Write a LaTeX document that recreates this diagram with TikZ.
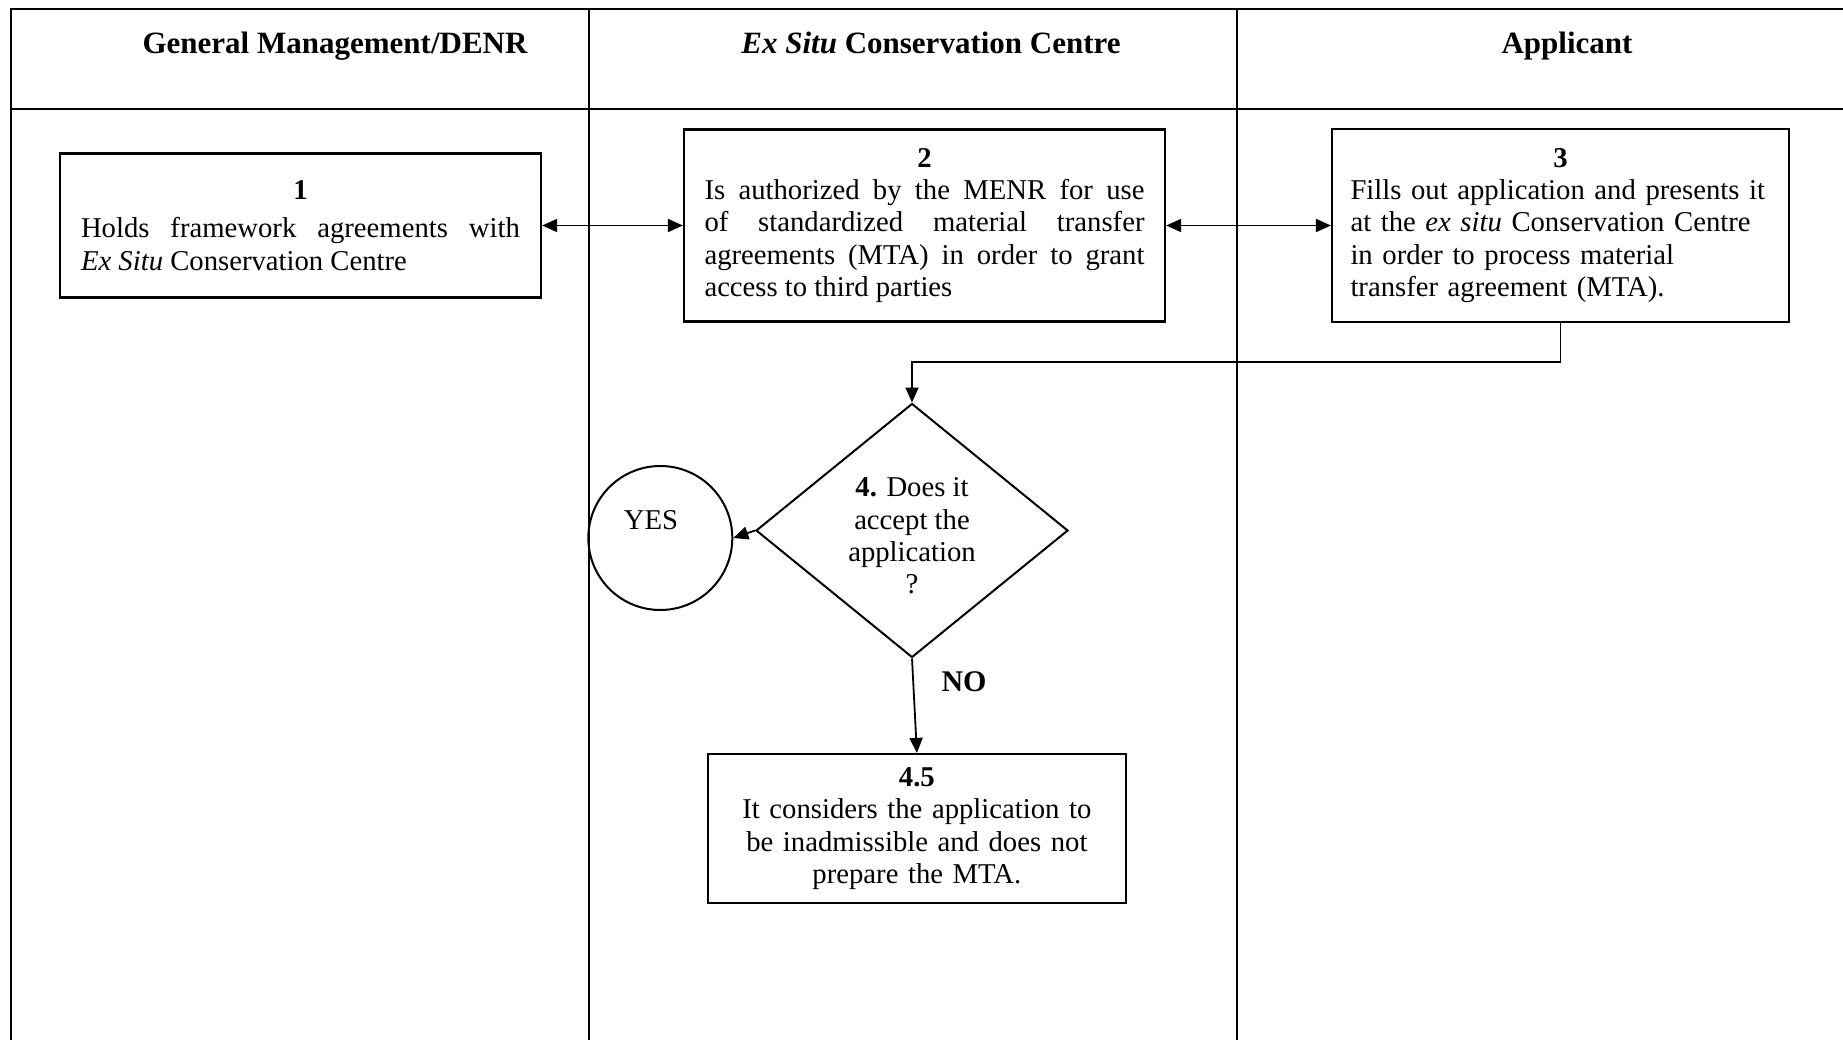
\documentclass[tikz,border=0pt]{standalone}
\usepackage{fontspec}
\setmainfont{Liberation Serif}
\usetikzlibrary{arrows.meta,shapes.geometric}
\setlength\parindent{0pt}
\begin{document}
\begin{tikzpicture}[x=1pt,y=-1pt,
  font=\fontsize{28.7}{32.3}\selectfont,
  grid/.style={line width=2pt},
  box/.style={draw,line width=2.2pt,inner xsep=21pt,inner ysep=0pt},
  tip/.style={-{Triangle[length=15pt,width=13pt]}},
  conn/.style={line width=1.8pt,tip},
  both/.style={line width=1.8pt,{Triangle[length=15pt,width=13pt]}-{Triangle[length=15pt,width=13pt]}},
  hdr/.style={font=\fontsize{31}{34}\selectfont\bfseries,anchor=base,inner sep=0pt},
  plain/.style={inner sep=0pt},
]
\useasboundingbox (0,0) rectangle (1843,1040);
\fill[white] (0,0) rectangle (1843,1040);

% swimlane grid
\draw[grid] (11,1040) -- (11,9) -- (1843,9);
\draw[grid] (11,109) -- (1843,109);
\draw[grid] (589,9) -- (589,1040);
\draw[grid] (1236.5,9) -- (1236.5,1040);

% headers
\node[hdr] (h1) at (335,54) {General Management/DENR};
\node[hdr] (h2) at (931,54) {\textit{Ex Situ} Conservation Centre};
\node[hdr] (h3) at (1567,54) {Applicant};

% boxes
\node[box,text width=439pt,minimum height=144pt,align=justify] (b1) at (300.5,225.5)
  {{\centering\textbf{1}\par}\vspace{6pt}Holds framework agreements with\linebreak \textit{Ex Situ} Conservation Centre};
\node[box,text width=440pt,inner xsep=20.5pt,minimum height=192pt,align=justify] (b2) at (924.5,225.5)
  {{\centering\textbf{2}\par}Is authorized by the MENR for use\linebreak of standardized material transfer\linebreak agreements (MTA) in order to grant\linebreak access to third parties};
\node[box,text width=420pt,inner xsep=18.5pt,minimum height=193pt,align=left] (b3) at (1560.5,225.5)
  {{\centering\textbf{3}\par}\mbox{Fills out application and presents it}\\\mbox{at the \textit{ex situ} Conservation Centre}\\\mbox{in order to process material}\\\mbox{transfer agreement (MTA).}};

% decision
\node[draw,diamond,line width=2pt,minimum width=312pt,minimum height=254pt,inner sep=0pt] (dia) at (912,530.5) {};
\node[plain,align=center] (diatext) at (912,536) {\textbf{4.} Does it\\accept the\\application\\?};

\node[draw,circle,line width=2pt,minimum size=144pt,inner sep=0pt] (yes) at (660.3,538) {};
\node[plain] (yestext) at (651,520) {YES};

\node[box,text width=376pt,minimum height=149pt,align=center] (b45) at (916.9,828.5)
  {\textbf{4.5}\\\mbox{It considers the application to}\\\mbox{be inadmissible and does not}\\\mbox{prepare the MTA.}};

\node[plain,font=\fontsize{30}{32.3}\selectfont\bfseries] (no) at (964,681.7) {NO};

% connectors
\draw[both] (b1.east) -- (b2.west);
\draw[both] (b2.east) -- (b3.west);
\coordinate (turn) at (912,362);
\draw[conn] (b3.south) |- (turn) -- (dia.north);
\draw[conn] (dia.west) -- (yes.east);
\draw[conn] (dia.south) -- (b45.north);
\end{tikzpicture}
\end{document}
